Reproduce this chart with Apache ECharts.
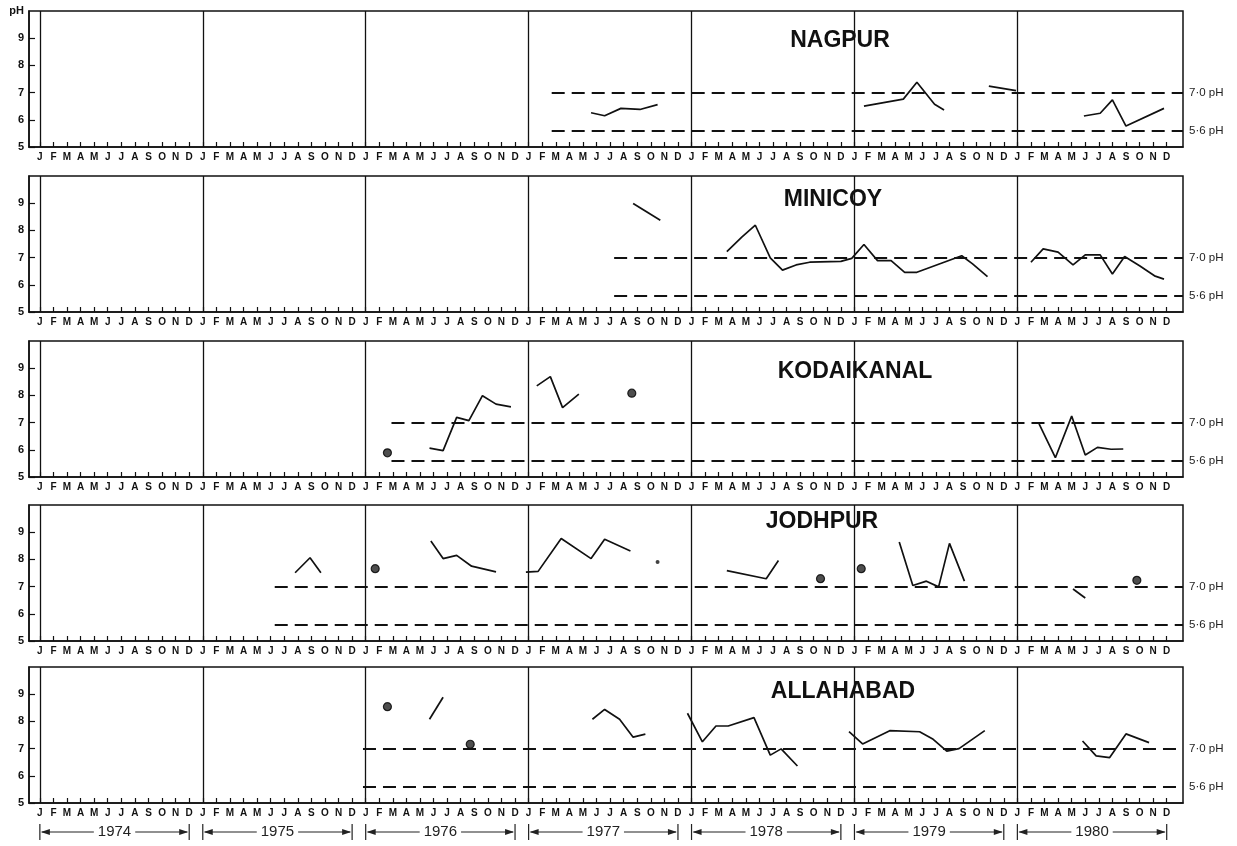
<!DOCTYPE html>
<html><head><meta charset="utf-8">
<script src="https://cdn.jsdelivr.net/npm/echarts@6/dist/echarts.min.js"></script>
<style>html,body{margin:0;padding:0;background:#fff}#c{width:1237px;height:846px}</style>
</head><body><div id="c"></div>
<script>
// ---------- data ----------
const MONTH_LETTERS = ['J','F','M','A','M','J','J','A','S','O','N','D'];
const YEARS = ['1974','1975','1976','1977','1978','1979','1980'];
const YEAR_START_MONTH = [0,12,24,36,48,60,72];      // months since Jan 1974
const MONTH_TICKS = [0,1,2,3,4,5,6,7,8,9,10,11,12,13,14,15,16,17,18,19,20,21,22,23,24,25,26,27,28,29,30,31,32,33,34,35,36,37,38,39,40,41,42,43,44,45,46,47,48,49,50,51,52,53,54,55,56,57,58,59,60,61,62,63,64,65,66,67,68,69,70,71,72,73,74,75,76,77,78,79,80,81,82,83];
const Y_TICKS = [5,6,7,8,9];
const REF_LEVELS = [7.0, 5.6];
const REF_LABELS = ['7·0 pH','5·6 pH'];
const STATIONS = ['NAGPUR','MINICOY','KODAIKANAL','JODHPUR','ALLAHABAD'];
const REF_START = [37.7, 42.3, 25.9, 17.3, 23.8];   // month where the reference dashes begin

const NAGPUR_SEGS = [
  [[40.6,6.26],[41.6,6.15],[42.8,6.42],[44.2,6.38],[45.5,6.56]],
  [[60.7,6.50],[63.6,6.76],[64.6,7.38],[65.9,6.57],[66.6,6.36]],
  [[69.9,7.24],[71.9,7.07]],
  [[76.9,6.14],[78.1,6.24],[79.0,6.73],[80.0,5.77],[82.8,6.42]]
];
const NAGPUR_DOTS = [];

const MINICOY_SEGS = [
  [[43.7,8.99],[45.7,8.37]],
  [[50.6,7.22],[51.7,7.75],[52.7,8.19],[53.8,6.99],[54.7,6.54],[55.7,6.73],[56.7,6.83],[59.0,6.86],[59.8,6.97],[60.7,7.48],[61.7,6.89],[62.7,6.89],[63.7,6.46],[64.6,6.46],[67.9,7.07],[68.7,6.77],[69.8,6.30]],
  [[73.0,6.83],[73.9,7.32],[75.0,7.20],[76.1,6.73],[77.0,7.10],[78.1,7.10],[79.0,6.40],[79.9,7.04],[81.0,6.70],[82.1,6.33],[82.8,6.21]]
];
const MINICOY_DOTS = [];

const KODAI_SEGS = [
  [[28.7,6.06],[29.7,5.97],[30.7,7.19],[31.6,7.07],[32.6,7.99],[33.6,7.68],[34.7,7.58]],
  [[36.6,8.35],[37.6,8.69],[38.5,7.55],[39.7,8.05]],
  [[73.6,6.95],[74.8,5.71],[76.0,7.24],[77.0,5.81],[77.9,6.09],[78.9,6.02],[79.8,6.03]]
];
const KODAI_DOTS = [[25.6,5.89],[43.6,8.08]];

const JODHPUR_SEGS = [
  [[18.8,7.51],[19.9,8.06],[20.7,7.51]],
  [[28.8,8.68],[29.7,8.03],[30.7,8.15],[31.8,7.75],[33.6,7.54]],
  [[35.8,7.53],[36.7,7.56],[38.4,8.77],[40.6,8.03],[41.6,8.74],[43.5,8.31]],
  [[50.6,7.59],[53.5,7.29],[54.4,7.96]],
  [[63.3,8.64],[64.3,7.04],[65.3,7.20],[66.2,6.99],[67.0,8.59],[68.1,7.20]],
  [[76.1,6.91],[77.0,6.58]]
];
const JODHPUR_DOTS = [[24.7,7.66],[57.5,7.29],[60.5,7.66],[80.8,7.23]];
const JODHPUR_SMALL_DOTS = [[45.5,7.90]];

const ALLAHABAD_SEGS = [
  [[28.7,8.08],[29.7,8.89]],
  [[40.7,8.08],[41.6,8.44],[42.7,8.08],[43.7,7.42],[44.6,7.53]],
  [[47.7,8.30],[48.8,7.25],[49.8,7.83],[50.7,7.83],[52.6,8.14],[53.8,6.76],[54.6,6.99],[55.8,6.36]],
  [[59.6,7.62],[60.6,7.17],[62.6,7.66],[64.8,7.62],[65.8,7.34],[66.8,6.91],[67.7,7.00],[69.6,7.66]],
  [[76.8,7.28],[77.8,6.73],[78.8,6.67],[80.0,7.54],[81.7,7.22]]
];
const ALLAHABAD_DOTS = [[25.6,8.54],[31.7,7.16]];

const ALL_SEGS = [NAGPUR_SEGS, MINICOY_SEGS, KODAI_SEGS, JODHPUR_SEGS, ALLAHABAD_SEGS];
const ALL_DOTS = [NAGPUR_DOTS, MINICOY_DOTS, KODAI_DOTS, JODHPUR_DOTS, ALLAHABAD_DOTS];
const ALL_SMALL_DOTS = [[], [], [], JODHPUR_SMALL_DOTS, []];

// ---------- layout / style ----------
const X_MIN = -0.8, X_MAX = 84.2;
const GRID_TOPS = [11, 176, 341, 505, 667];
const GRID_H = 136;
const NAME_POS = [[840,41],[833,200],[855,372],[822,522],[843,692]];
const YEAR_ROW_Y = 832;
const FONT = "'Liberation Sans', Arial, sans-serif";
const INK = '#111';

const chart = echarts.init(document.getElementById('c'), null, {renderer:'canvas'});

const grids = [], xAxes = [], yAxes = [], series = [];
STATIONS.forEach((name, i) => {
  grids.push({left:29, right:54, top:GRID_TOPS[i], height:GRID_H, show:true,
    borderColor:INK, borderWidth:1.5, backgroundColor:'transparent'});
  xAxes.push({type:'value', gridIndex:i, min:X_MIN, max:X_MAX,
    axisLine:{show:true, onZero:false, lineStyle:{color:INK, width:1.5}},
    axisTick:{show:true, inside:true, length:5, customValues:MONTH_TICKS, lineStyle:{color:INK, width:1.2}},
    axisLabel:{show:true, customValues:MONTH_TICKS, margin:5,
      formatter: v => MONTH_LETTERS[((Math.round(v) % 12) + 12) % 12],
      fontFamily:FONT, fontWeight:'bold', fontSize:10, color:INK},
    splitLine:{show:false}});
  yAxes.push({type:'value', gridIndex:i, min:5, max:10, interval:1,
    axisLine:{show:true, onZero:false, lineStyle:{color:INK, width:1.5}},
    axisTick:{show:true, inside:true, length:6, customValues:Y_TICKS, lineStyle:{color:INK, width:1.2}},
    axisLabel:{margin:5, fontFamily:FONT, fontWeight:'bold', fontSize:11, color:INK,
      formatter: v => v === 10 ? (i === 0 ? 'pH' : '') : String(v)},
    splitLine:{show:false}});
  // year separator lines
  series.push({type:'line', xAxisIndex:i, yAxisIndex:i, data:[], silent:true, animation:false,
    markLine:{symbol:'none', silent:true, animation:false, label:{show:false},
      lineStyle:{color:INK, width:1.3, type:'solid'},
      data: YEAR_START_MONTH.map(m => ({xAxis:m}))}});
  // reference dashed lines 7.0 and 5.6
  series.push({type:'line', xAxisIndex:i, yAxisIndex:i, data:[], silent:true, animation:false,
    markLine:{symbol:'none', silent:true, animation:false,
      lineStyle:{color:INK, width:1.8, type:[13,7]},
      label:{show:true, position:'end', distance:6, color:'#222', fontSize:11.5, fontFamily:FONT},
      data: REF_LEVELS.map((lv, k) => [
        {coord:[REF_START[i], lv], name:REF_LABELS[k], label:{formatter:REF_LABELS[k]}},
        {coord:[X_MAX, lv], name:REF_LABELS[k], label:{formatter:REF_LABELS[k]}}
      ])}});
  ALL_SEGS[i].forEach(seg => {
    series.push({type:'line', xAxisIndex:i, yAxisIndex:i, data:seg, symbol:'none', silent:true,
      animation:false, lineStyle:{color:INK, width:1.7}});
  });
  if (ALL_DOTS[i].length) series.push({type:'scatter', xAxisIndex:i, yAxisIndex:i, data:ALL_DOTS[i],
    symbol:'circle', symbolSize:8, silent:true, animation:false,
    itemStyle:{color:'#222', borderColor:'#000', borderWidth:1.2}});
  if (ALL_SMALL_DOTS[i].length) series.push({type:'scatter', xAxisIndex:i, yAxisIndex:i, data:ALL_SMALL_DOTS[i],
    symbol:'circle', symbolSize:4, silent:true, animation:false, itemStyle:{color:'#111'}});
});

chart.setOption({backgroundColor:'#fff', animation:false, grid:grids, xAxis:xAxes, yAxis:yAxes, series:series});

// station names and year arrows
const gfx = [];
STATIONS.forEach((name, i) => {
  gfx.push({type:'text', silent:true, z:100, style:{x:NAME_POS[i][0], y:NAME_POS[i][1], text:name,
    textAlign:'center', textVerticalAlign:'middle', fill:INK,
    font:"bold 23px 'Liberation Sans', Arial, sans-serif"}});
});
YEARS.forEach((yr, k) => {
  const x0 = chart.convertToPixel({xAxisIndex:4}, YEAR_START_MONTH[k]);
  const x1 = chart.convertToPixel({xAxisIndex:4}, YEAR_START_MONTH[k] + 11);
  const y = YEAR_ROW_Y, st = {stroke:'#222', lineWidth:1.2};
  gfx.push({type:'line', silent:true, shape:{x1:x0, y1:y-8, x2:x0, y2:y+8}, style:st});
  gfx.push({type:'line', silent:true, shape:{x1:x1, y1:y-8, x2:x1, y2:y+8}, style:st});
  gfx.push({type:'line', silent:true, shape:{x1:x0+2, y1:y, x2:x1-2, y2:y}, style:st});
  gfx.push({type:'polygon', silent:true, shape:{points:[[x0+1,y],[x0+10,y-3],[x0+10,y+3]]}, style:{fill:'#222'}});
  gfx.push({type:'polygon', silent:true, shape:{points:[[x1-1,y],[x1-10,y-3],[x1-10,y+3]]}, style:{fill:'#222'}});
  gfx.push({type:'text', silent:true, z:10, style:{x:(x0+x1)/2, y:y, text:yr, textAlign:'center',
    textVerticalAlign:'middle', fill:'#222', backgroundColor:'#fff', padding:[0,4],
    font:"15px 'Liberation Sans', Arial, sans-serif"}});
});
chart.setOption({graphic:gfx});
</script></body></html>
